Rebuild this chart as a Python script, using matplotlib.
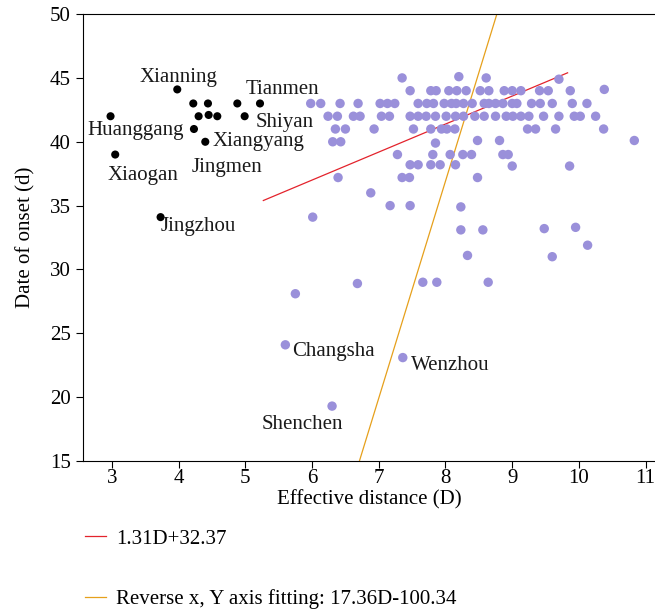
import matplotlib
matplotlib.use('Agg')
import matplotlib.pyplot as plt

plt.rcParams['font.family'] = ['Liberation Serif', 'DejaVu Serif']

# Hubei cities (black)
hubei_x = [2.98, 3.05, 3.98, 4.22, 4.30, 4.23, 4.44, 4.45, 4.58, 4.40, 4.88, 5.22, 4.99, 3.73]
hubei_y = [42.0, 39.0, 44.1, 43.0, 42.0, 41.0, 43.0, 42.1, 42.0, 40.0, 43.0, 43.0, 42.0, 34.1]

# other cities (purple)
other_x = [7.35, 8.20, 8.61, 9.70,
           7.47, 7.78, 7.86, 8.05, 8.17, 8.31, 8.52, 8.65, 8.88, 9.00, 9.13, 9.41, 9.54, 9.87, 10.38,
           5.98, 6.13, 6.42, 6.69, 7.02, 7.13, 7.24, 7.59, 7.72, 7.82, 7.98, 8.09, 8.16, 8.27, 8.40,
           8.58, 8.65, 8.75, 8.86, 9.00, 9.07, 9.29, 9.42, 9.60, 9.90, 10.12,
           6.24, 6.38, 6.62, 6.72, 7.04, 7.16, 7.47, 7.59, 7.71, 7.85, 8.01, 8.15, 8.27, 8.44,
           8.58, 8.75, 8.91, 9.01, 9.13, 9.25, 9.47, 9.70, 9.93, 10.02, 10.25,
           6.35, 6.50, 6.93, 7.52, 7.78, 7.94, 8.02, 8.14, 9.23, 9.35, 9.65, 10.37,
           6.31, 6.43, 7.85, 8.48, 8.81, 10.83,
           7.28, 7.81, 8.07, 8.26, 8.39, 8.86, 8.94,
           7.47, 7.59, 7.78, 7.92, 8.15, 9.00, 9.86,
           6.39, 7.35, 7.46, 8.48,
           6.88, 7.17, 7.47, 8.23, 6.01, 8.23, 8.56, 9.48, 9.95, 10.13, 8.33, 9.60,
           5.75, 6.68, 7.66, 7.87, 8.64, 5.60, 7.36, 6.30]
other_y = [45.0, 45.1, 45.0, 44.9,
           44.0, 44.0, 44.0, 44.0, 44.0, 44.0, 44.0, 44.0, 44.0, 44.0, 44.0, 44.0, 44.0, 44.0, 44.1,
           43.0, 43.0, 43.0, 43.0, 43.0, 43.0, 43.0, 43.0, 43.0, 43.0, 43.0, 43.0, 43.0, 43.0, 43.0,
           43.0, 43.0, 43.0, 43.0, 43.0, 43.0, 43.0, 43.0, 43.0, 43.0, 43.0,
           42.0, 42.0, 42.0, 42.0, 42.0, 42.0, 42.0, 42.0, 42.0, 42.0, 42.0, 42.0, 42.0, 42.0,
           42.0, 42.0, 42.0, 42.0, 42.0, 42.0, 42.0, 42.0, 42.0, 42.0, 42.0,
           41.0, 41.0, 41.0, 41.0, 41.0, 41.0, 41.0, 41.0, 41.0, 41.0, 41.0, 41.0,
           40.0, 40.0, 39.9, 40.1, 40.1, 40.1,
           39.0, 39.0, 39.0, 39.0, 39.0, 39.0, 39.0,
           38.2, 38.2, 38.2, 38.2, 38.2, 38.1, 38.1,
           37.2, 37.2, 37.2, 37.2,
           36.0, 35.0, 35.0, 34.9, 34.1, 33.1, 33.1, 33.2, 33.3, 31.9, 31.1, 31.0,
           28.1, 28.9, 29.0, 29.0, 29.0, 24.1, 23.1, 19.3]

# fitted lines as drawn (end points)
fit1_x = [5.27, 9.83]
fit1_y = [35.4, 45.4]
fit2_x = [6.71, 8.77]
fit2_y = [15.0, 50.0]

# city labels: (name, x, y, dx px, dy px)
labels = [('Xianning', 3.98, 44.1, -38, 12),
          ('Tianmen', 5.22, 43.0, -14, 14),
          ('Shiyan', 4.99, 42.0, 11, -6),
          ('Huanggang', 2.98, 42.0, -23, -14),
          ('Xiangyang', 4.40, 40.0, 7, 0),
          ('Jingmen', 4.40, 40.0, -14, -26),
          ('Xiaogan', 3.05, 39.0, -8, -21),
          ('Jingzhou', 3.73, 34.1, 0, -9),
          ('Changsha', 5.60, 24.1, 7, -7),
          ('Wenzhou', 7.36, 23.1, 8, -8),
          ('Shenchen', 6.30, 19.3, -70, -18)]

fig = plt.figure(figsize=(6.55, 6.12), dpi=100)
ax = fig.add_axes([0.127, 0.2467, 0.873, 0.7303])

ax.scatter(other_x, other_y, s=46, color='#9a90da', edgecolors='none', zorder=3)
ax.scatter(hubei_x, hubei_y, s=34, color='black', edgecolors='none', zorder=3)
ax.plot(fit1_x, fit1_y, color='#e3232c', linewidth=0.9, label='1.31D+32.37', zorder=2)
ax.plot(fit2_x, fit2_y, color='#e6a01c', linewidth=0.9,
        label='Reverse x, Y axis fitting: 17.36D-100.34', zorder=2)

for name, x, y, dx, dy in labels:
    ax.annotate(name, (x, y), xytext=(dx * 0.72, dy * 0.72), textcoords='offset points',
                ha='left', va='center', fontsize=15, color='#1a1a1a')

ax.set_xlim(2.57, 11.14)
ax.set_ylim(15, 50)
ax.set_xticks(range(3, 12))
ax.set_yticks(range(15, 51, 5))
ax.spines['right'].set_visible(False)
ax.tick_params(direction='out', length=5, width=0.8, pad=4, labelsize=15)
ax.tick_params(axis='x', pad=1)
ax.set_xlabel('Effective distance (D)', fontsize=15, labelpad=1)
ax.set_ylabel('Date of onset (d)', fontsize=15, labelpad=10)

fig.legend(loc='center left', bbox_to_anchor=(85 / 655, 0.070), frameon=False,
           fontsize=15, handlelength=1.0, handletextpad=0.5, labelspacing=1.95,
           borderpad=0, borderaxespad=0)

plt.savefig('out.png', dpi=100)
